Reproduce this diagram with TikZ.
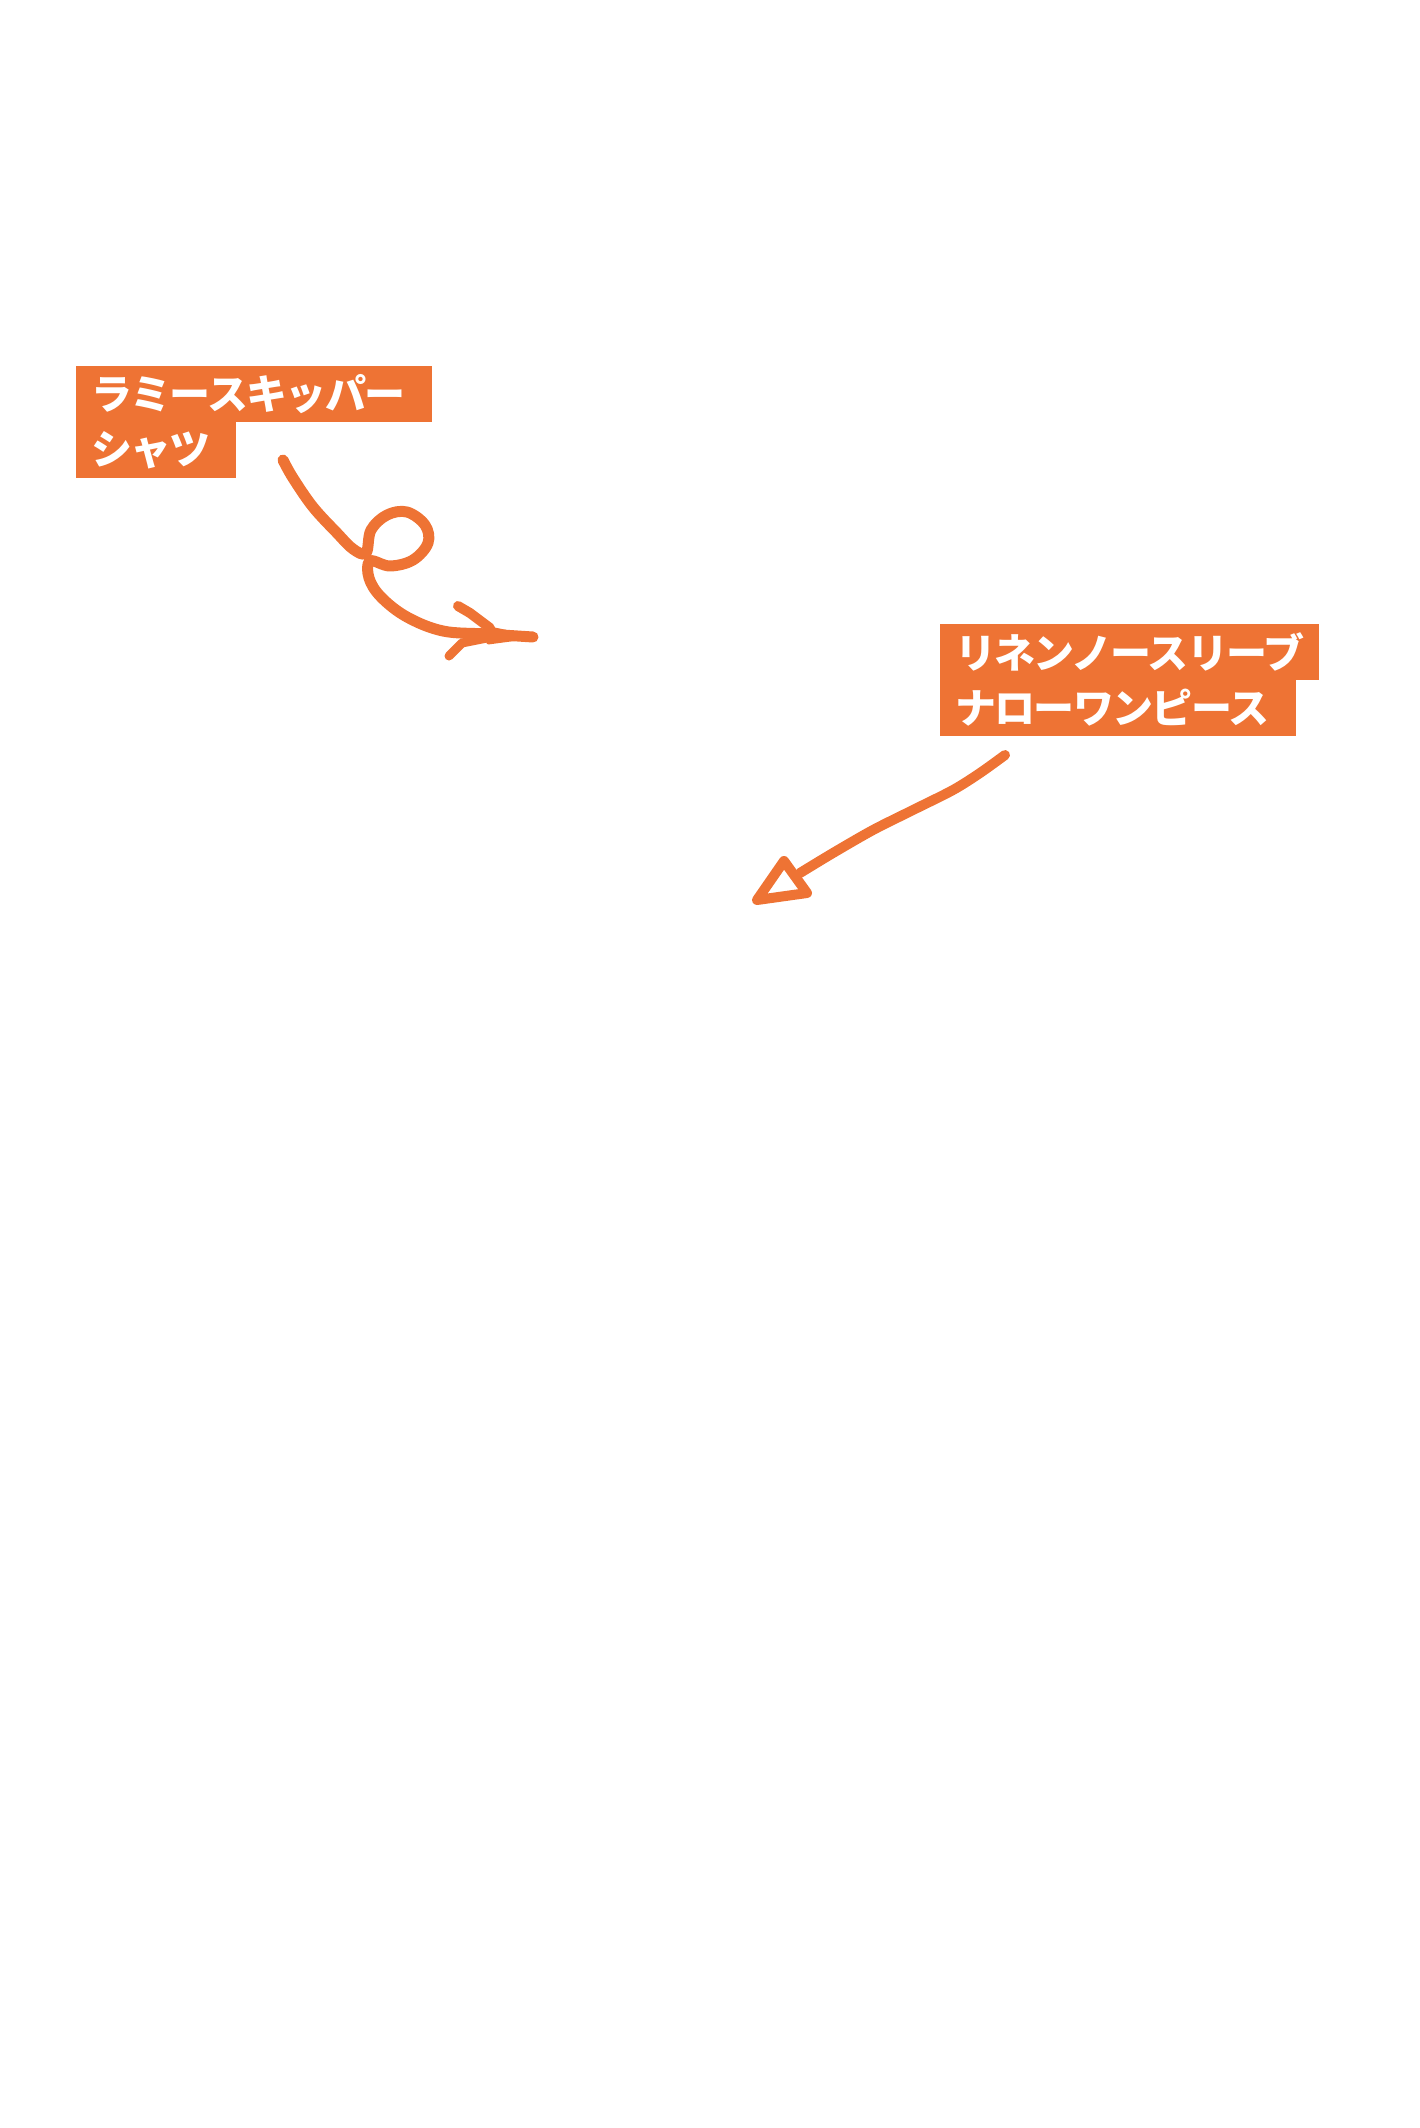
\documentclass[tikz,border=0pt]{standalone}
\usepackage{fontspec}
\newfontfamily\jp[LetterSpace=-4]{Noto Sans CJK JP}
\definecolor{tagorange}{RGB}{238,115,52}
\tikzset{
  tagbox/.style={anchor=north west, fill=tagorange, text=white, font=\jp\bfseries\fontsize{41}{41}\selectfont,
    minimum height=56pt, inner xsep=15pt, inner ysep=0pt, align=left, outer sep=0pt},
  scribble/.style={draw=tagorange, line width=11pt, line cap=round, line join=round},
  wedge/.style={fill=tagorange, draw=tagorange, line width=3pt, line join=round}
}
\begin{document}
\begin{tikzpicture}[x=1pt,y=-1pt]
\useasboundingbox (0,0) rectangle (1420,2128);
% label 1
\node[tagbox, text width=326pt] (l1a) at (76,366) {ラミースキッパー};
\node[tagbox, text width=130pt] (l1b) at (76,422) {シャツ};
% label 2
\node[tagbox, text width=349pt] (l2a) at (940,624) {リネンノースリーブ};
\node[tagbox, text width=326pt] (l2b) at (940,680) {ナローワンピース};
% arrow 1
\coordinate (a1s) at (283,460);
\coordinate (a1e) at (533,637);
\draw[scribble] plot[smooth, tension=0.6] coordinates {(a1s) (293,478) (313,507) (337,533) (353,549) (366,553)
  (371,530) (387,515) (407,512) (425,525) (428,543) (413,560) (390,566) (370,561)
  (369,578) (381,597) (407,617) (443,631) (487,634) (a1e)};
\draw[scribble, line width=10pt] (458,606) -- (470,613) -- (490,628);
\draw[scribble, line width=9pt] (449,656) -- (462,643) -- (492,637);
\fill[wedge] (485,627) -- (a1e) -- (488,643) -- cycle;
% arrow 2
\coordinate (a2s) at (1005,755);
\coordinate (a2e) at (757,900);
\draw[scribble, line width=10pt] plot[smooth, tension=0.5] coordinates {(a2s) (980,773) (953,790) (913,810) (873,830) (833,853) (800,873)};
\draw[scribble, line width=10pt] (a2e) -- (784,861) -- (807,893) -- cycle;
\end{tikzpicture}
\end{document}
